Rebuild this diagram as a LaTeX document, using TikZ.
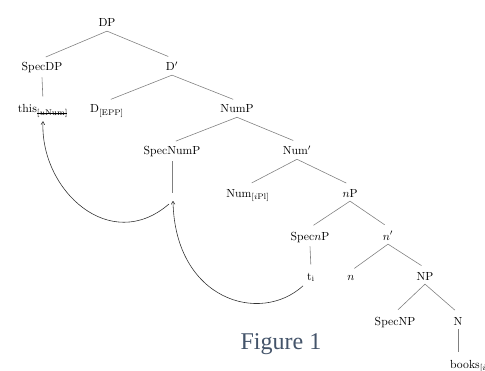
\documentclass[tikz,border=0pt]{standalone}
\usepackage{amsmath}
\usepackage{fontspec}
\newfontfamily\captionserif{Liberation Serif}
\definecolor{captionblue}{HTML}{44546A}
\definecolor{edgegray}{HTML}{808080}
\usetikzlibrary{arrows.meta}
\newcommand{\strikefeat}[1]{\setbox0\hbox{#1}\rlap{\rule[0.55ex]{\wd0}{0.4pt}}\box0}
\tikzset{
	treelabel/.style={anchor=base, font=\normalsize}
}
\tikzset{
	treeedge/.style={draw=edgegray, line width=0.5pt, shorten >=3.5pt}
}
\tikzset{
	moveedge/.style={draw=black!80, line width=0.5pt, -{To[length=3pt,width=3.5pt]}}
}

\begin{document}
\begin{tikzpicture}[x=0.03cm, y=-0.03cm]
\clip (0,0) rectangle (485,371);

% tree labels, placed on their baselines
\node[treelabel] (dp) at (107,27) {DP};
\node[treelabel] (specdp) at (42,71) {SpecDP};
\node[treelabel] (dbar) at (172,71) {D$'$};
\node[treelabel] (this) at (43,113) {this$_{\text{\strikefeat{[$u$Num]}}}$};
\node[treelabel] (dhead) at (107,113) {D$_{\text{[EPP]}}$};
\node[treelabel] (nump) at (237,113) {NumP};
\node[treelabel] (specnump) at (172,155) {SpecNumP};
\node[treelabel] (numbar) at (297,155) {Num$'$};
\node[treelabel] (numhead) at (248,197) {Num$_{[i\text{Pl}]}$};
\node[treelabel] (littlenp) at (350,197) {$n$P};
\node[treelabel] (specnp) at (310,240) {Spec$n$P};
\node[treelabel] (nbar) at (388,240) {$n'$};
\node[treelabel] (trace) at (311,280) {t$_\mathrm{i}$};
\node[treelabel] (littlen) at (351,280) {$n$};
\node[treelabel] (bignp) at (425,280) {NP};
\node[treelabel] (specbignp) at (395,325) {SpecNP};
\node[treelabel] (nhead) at (458,325) {N};
\node[treelabel, anchor=base west] (books) at (446,368) {books$_{[i\text{Pl}]}$};

\coordinate (numgap) at (172,193);
\coordinate (landing) at (173,201);
\coordinate (launch) at (169,204);

% branches
\draw[treeedge] (dp.south) -- (specdp.north);
\draw[treeedge] (dp.south) -- (dbar.north);
\draw[treeedge] (specdp.south) -- (this.north);
\draw[treeedge] (dbar.south) -- (dhead.north);
\draw[treeedge] (dbar.south) -- (nump.north);
\draw[treeedge] (nump.south) -- (specnump.north);
\draw[treeedge] (nump.south) -- (numbar.north);
\draw[treeedge, shorten >=0pt] (specnump.south) -- (numgap);
\draw[treeedge] (numbar.south) -- (numhead.north);
\draw[treeedge] (numbar.south) -- (littlenp.north);
\draw[treeedge] (littlenp.south) -- (specnp.north);
\draw[treeedge] (littlenp.south) -- (nbar.north);
\draw[treeedge] (specnp.south) -- (trace.north);
\draw[treeedge] (nbar.south) -- (littlen.north);
\draw[treeedge] (nbar.south) -- (bignp.north);
\draw[treeedge] (bignp.south) -- (specbignp.north);
\draw[treeedge] (bignp.south) -- (nhead.north);
\draw[treeedge] (nhead.south) -- (nhead.south |- books.north);

% movement
\draw[moveedge] (trace.south west) .. controls (260,325) and (175,300) .. (landing);
\draw[moveedge] (launch) .. controls (110,255) and (40,190) .. (this.south);

\node[font=\captionserif\fontsize{20.5}{24}\selectfont, text=captionblue, anchor=base] (caption) at (281,349) {Figure 1};
\end{tikzpicture}
\end{document}
